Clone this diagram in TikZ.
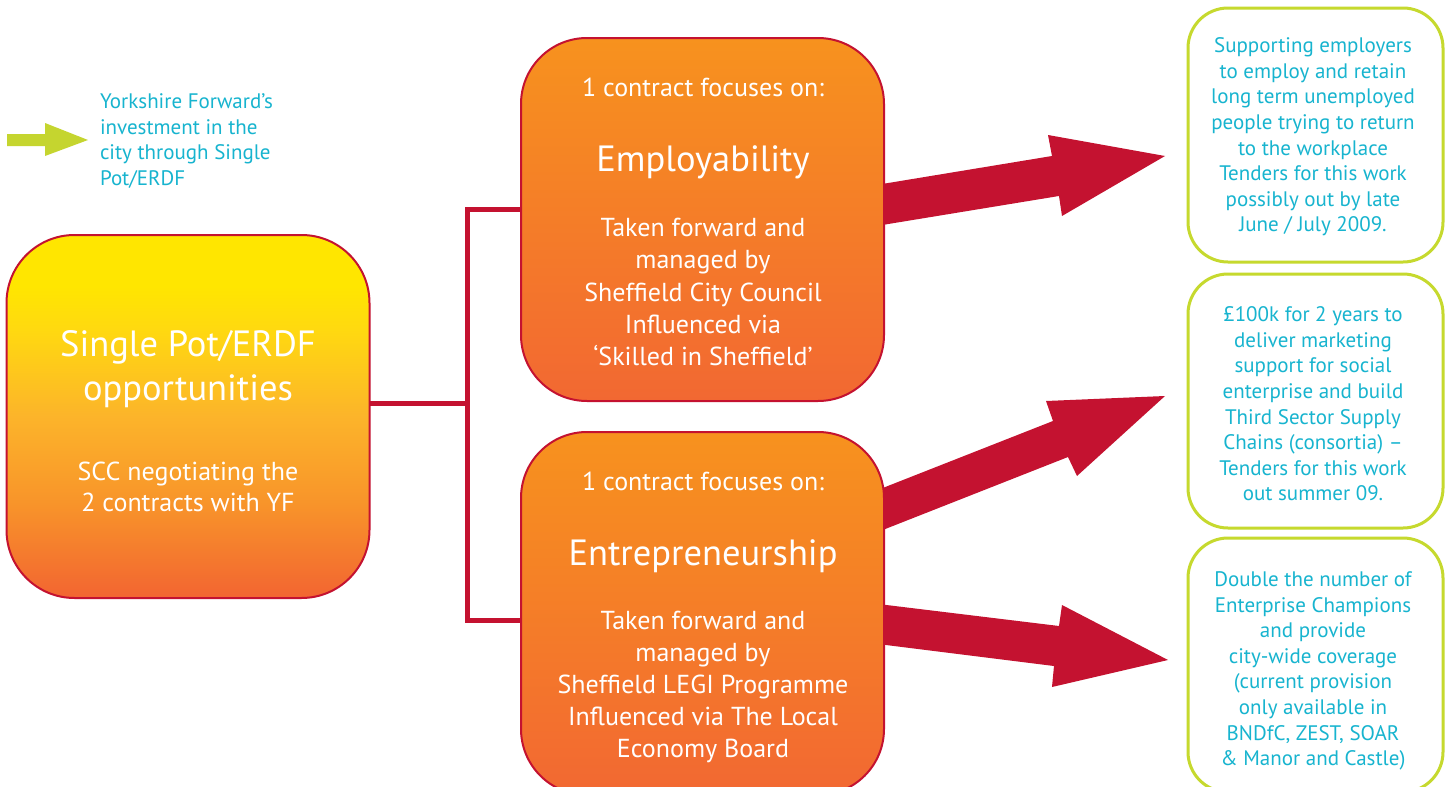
\documentclass[tikz,border=0pt]{standalone}
\usepackage{fontspec}
\setmainfont{PT Sans}
\definecolor{crim}{HTML}{C41230}
\definecolor{limeB}{HTML}{C6D92E}
\definecolor{legG}{HTML}{C5D52F}
\definecolor{cyanT}{HTML}{17B4CF}
\definecolor{orT}{HTML}{F7921E}
\definecolor{orB}{HTML}{F26832}
\definecolor{potyel}{HTML}{FFE600}
\definecolor{potyel2}{HTML}{FFD910}
\definecolor{potmid}{HTML}{FCB42A}
\definecolor{potlow}{HTML}{F8942A}
\definecolor{potbot}{HTML}{F26531}
\pgfdeclareverticalshading{potshade}{100bp}{color(0bp)=(potbot); color(25bp)=(potbot); color(38bp)=(potlow); color(50bp)=(potmid); color(62bp)=(potyel2); color(68bp)=(potyel); color(100bp)=(potyel)}
\begin{document}
\begin{tikzpicture}[x=1pt,y=-1pt,
  every node/.style={inner sep=0pt, outer sep=0pt},
  orbox/.style={draw=crim, line width=2pt, rounded corners=66pt, minimum width=363pt, minimum height=363pt, top color=orT, bottom color=orB},
  potbox/.style={draw=crim, line width=2pt, rounded corners=68pt, minimum width=363pt, minimum height=363pt, shading=potshade},
  grbox/.style={draw=limeB, line width=3pt, fill=white, rounded corners=40pt, minimum width=255pt, minimum height=254pt},
  wtxt/.style={text=white, align=center},
  smallw/.style={wtxt, font=\fontsize{26}{32.2}\selectfont},
  bigw/.style={wtxt, font=\fontsize{36.5}{44}\selectfont},
  ctxt/.style={text=cyanT, align=center, font=\fontsize{21}{25.6}\selectfont},
  link/.style={draw=crim, line width=5pt},
  redarrow/.style={fill=crim},
  legarrow/.style={fill=legG}
]
\useasboundingbox (0,0) rectangle (1452,787);
\clip (0,0) rectangle (1452,787);
\fill[white] (0,0) rectangle (1452,787);

% legend
\fill[legarrow] (7,134) -- (45,134) -- (45,123) -- (88,140) -- (45,156) -- (45,146) -- (7,146) -- cycle;
\node[ctxt, align=left, anchor=west] (legend) at (100,141) {Yorkshire Forward’s\\investment in the\\city through Single\\Pot/ERDF};

% red block arrows (behind boxes)
\fill[redarrow] (870,186) -- (1052,156) -- (1048,135) -- (1165,156) -- (1062,216) -- (1059,196) -- (870,227) -- cycle;
\fill[redarrow] (870,493) -- (1053,421) -- (1046,401) -- (1165,396) -- (1077,476) -- (1068,457) -- (870,535) -- cycle;
\fill[redarrow] (870,603) -- (1059,626) -- (1062,605) -- (1168,660) -- (1052,687) -- (1054,666) -- (870,643) -- cycle;

% connectors
\coordinate (jm) at (467,403);
\coordinate (jt) at (467,209);
\coordinate (jb) at (467,620);
\coordinate (pe) at (368,403);
\draw[link] (pe) -- (jm);
\draw[link] (525,209) -- (jt) -- (jb) -- (525,620);

% boxes
\node[potbox] (pot) at (188,416.5) {};
\node[orbox] (emp) at (702.5,219.5) {};
\node[orbox] (ent) at (702.5,613.5) {};

\node[grbox] (g1) at (1315.5,135) {};
\node[grbox] (g2) at (1315.5,401) {};
\node[grbox] (g3) at (1315.5,665) {};

% left box text
\node[bigw] (potT) at (188,369) {Single Pot/ERDF\\opportunities};
\node[smallw, font=\fontsize{26}{31}\selectfont] (potS) at (188,487) {SCC negotiating the\\2 contracts with YF};

% middle box texts
\node[smallw] (empA) at (703,87) {1 contract focuses on:};
\node[bigw] (empB) at (703,162) {Employability};
\node[smallw] (empC) at (703,292) {Taken forward and\\managed by\\Sheffield City Council\\Influenced via\\‘Skilled in Sheffield’};

\node[smallw] (entA) at (703,481) {1 contract focuses on:};
\node[bigw] (entB) at (703,556) {Entrepreneurship};
\node[smallw] (entC) at (703,687) {Taken forward and\\managed by\\Sheffield LEGI Programme\\Influenced via The Local\\Economy Board};

% right box texts
\node[ctxt] (g1t) at (1313,137) {Supporting employers\\to employ and retain\\long term unemployed\\people trying to return\\to the workplace\\Tenders for this work\\possibly out by late\\June / July 2009.};
\node[ctxt] (g2t) at (1313,404) {£100k for 2 years to\\deliver marketing\\support for social\\enterprise and build\\Third Sector Supply\\Chains (consortia) –\\Tenders for this work\\out summer 09.};
\node[ctxt] (g3t) at (1313,671) {Double the number of\\Enterprise Champions\\and provide\\city-wide coverage\\(current provision\\only available in\\BNDfC, ZEST, SOAR\\\& Manor and Castle)};
\end{tikzpicture}
\end{document}
